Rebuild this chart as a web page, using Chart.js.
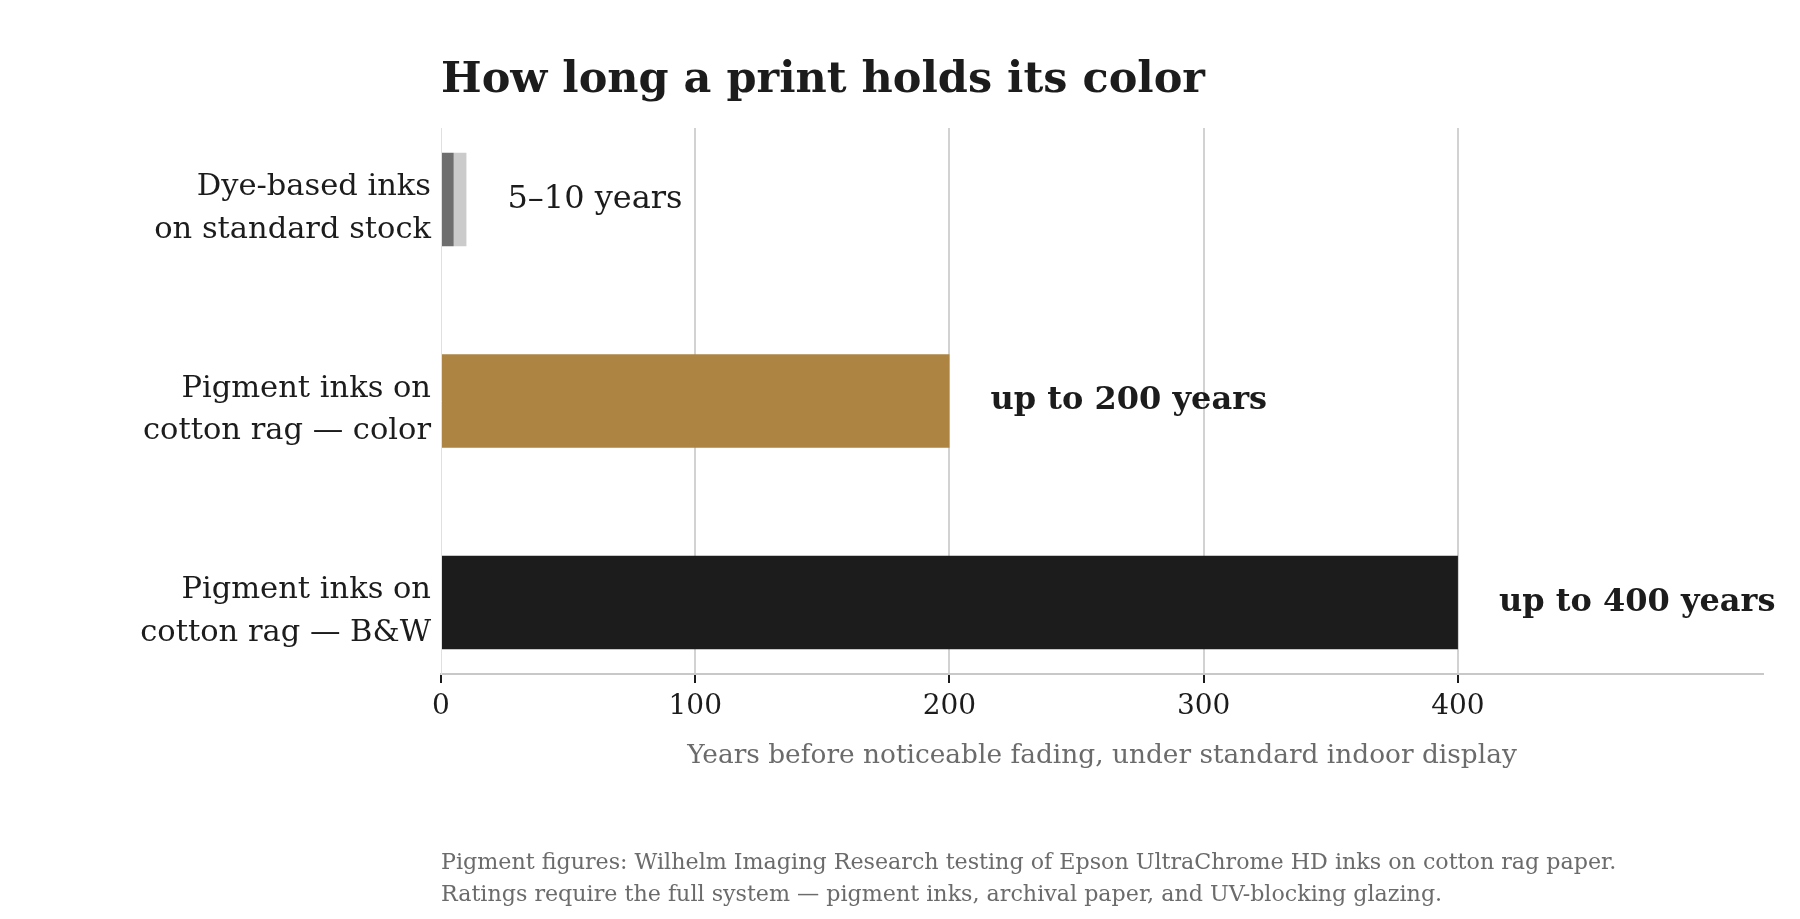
<!DOCTYPE html>
<html><head><meta charset="utf-8">
<script src="https://cdn.jsdelivr.net/npm/chart.js@4.4.0/dist/chart.umd.min.js"></script>
<style>html,body{margin:0;padding:0;background:#fff;}#wrap{width:1800px;height:919px;position:relative;}</style>
</head><body><div id="wrap"><canvas id="c"></canvas></div>
<script>
const categories = [["Dye-based inks","on standard stock"],["Pigment inks on","cotton rag — color"],["Pigment inks on","cotton rag — B&W"]];
const baseYears = [5, 200, 400];
const rangeTop = [10, null, null];
const valueLabels = ["5–10 years","up to 200 years","up to 400 years"];
const labelBold = [false, true, true];
const xTicks = [0, 100, 200, 300, 400];
const titleText = "How long a print holds its color";
const xTitle = "Years before noticeable fading, under standard indoor display";
const footnote = ["Pigment figures: Wilhelm Imaging Research testing of Epson UltraChrome HD inks on cotton rag paper.","Ratings require the full system — pigment inks, archival paper, and UV-blocking glazing."];

const FONT = "'DejaVu Serif', serif";
const barColors = ["#6e6e6e", "#ad8442", "#1c1c1c"];

const textPlugin = {
  id: 'texts',
  afterDatasetsDraw(chart) {
    const ctx = chart.ctx, ca = chart.chartArea;
    const xs = chart.scales.x, ys = chart.scales.y;
    ctx.save();
    ctx.fillStyle = '#1c1c1c';
    ctx.textBaseline = 'middle';
    ctx.textAlign = 'left';
    for (let i = 0; i < valueLabels.length; i++) {
      const end = rangeTop[i] != null ? rangeTop[i] : baseYears[i];
      const x = xs.getPixelForValue(end) + 41;
      const y = ys.getPixelForValue(i);
      ctx.font = (labelBold[i] ? 'bold ' : '') + '32px ' + FONT;
      ctx.fillText(valueLabels[i], x, y);
    }
    ctx.font = 'bold 43px ' + FONT;
    ctx.textBaseline = 'alphabetic';
    ctx.fillText(titleText, ca.left, 92);
    ctx.fillStyle = '#6b6b6b';
    ctx.textAlign = 'center';
    ctx.textBaseline = 'middle';
    ctx.font = '26.4px ' + FONT;
    ctx.fillText(xTitle, (ca.left + ca.right) / 2, 756);
    ctx.textAlign = 'left';
    ctx.font = '22.2px ' + FONT;
    ctx.fillText(footnote[0], ca.left, 863);
    ctx.fillText(footnote[1], ca.left, 895);
    ctx.restore();
  }
};

new Chart(document.getElementById('c'), {
  type: 'bar',
  data: {
    datasets: [
      {
        data: baseYears.map((v, i) => ({ y: i, x: v })),
        backgroundColor: barColors,
        grouped: false,
        barPercentage: 0.465,
        categoryPercentage: 1
      },
      {
        data: rangeTop.map((v, i) => v == null ? null : ({ y: i, x: [baseYears[i], v] })).filter(d => d),
        backgroundColor: '#cbcbcb',
        grouped: false,
        barPercentage: 0.465,
        categoryPercentage: 1
      }
    ]
  },
  options: {
    indexAxis: 'y',
    responsive: true,
    maintainAspectRatio: false,
    animation: false,
    layout: { padding: { top: 128, right: 37, left: 0, bottom: 0 } },
    plugins: { legend: { display: false }, tooltip: { enabled: false }, title: { display: false } },
    scales: {
      x: {
        type: 'linear',
        bounds: 'data',
        offset: false,
        min: 0, max: 520,
        afterBuildTicks: s => { s.ticks = xTicks.map(v => ({ value: v })); },
        afterFit: s => { s.height = 245; },
        grid: { color: ctx => ctx.tick && ctx.tick.value === 0 ? 'rgba(0,0,0,0)' : '#d2d2d2', lineWidth: 2, tickColor: '#1c1c1c', tickWidth: 2, tickLength: 9 },
        border: { display: true, color: '#c8c8c8', width: 2 },
        ticks: { font: { family: FONT, size: 28 }, color: '#1c1c1c', padding: 7 }
      },
      y: {
        type: 'linear',
        bounds: 'data',
        offset: false,
        reverse: true,
        min: -0.355, max: 2.355,
        afterBuildTicks: s => { s.ticks = categories.map((c, i) => ({ value: i })); },
        afterFit: s => { s.width = 441; },
        grid: { display: false, drawTicks: false },
        border: { display: true, color: '#e0e0e0', width: 1 },
        ticks: {
          font: { family: FONT, size: 30.5, lineHeight: 1.4 }, color: '#1c1c1c', padding: 10, labelOffset: 9,
          callback: v => categories[v] || ''
        }
      }
    }
  },
  plugins: [textPlugin]
});
</script></body></html>
